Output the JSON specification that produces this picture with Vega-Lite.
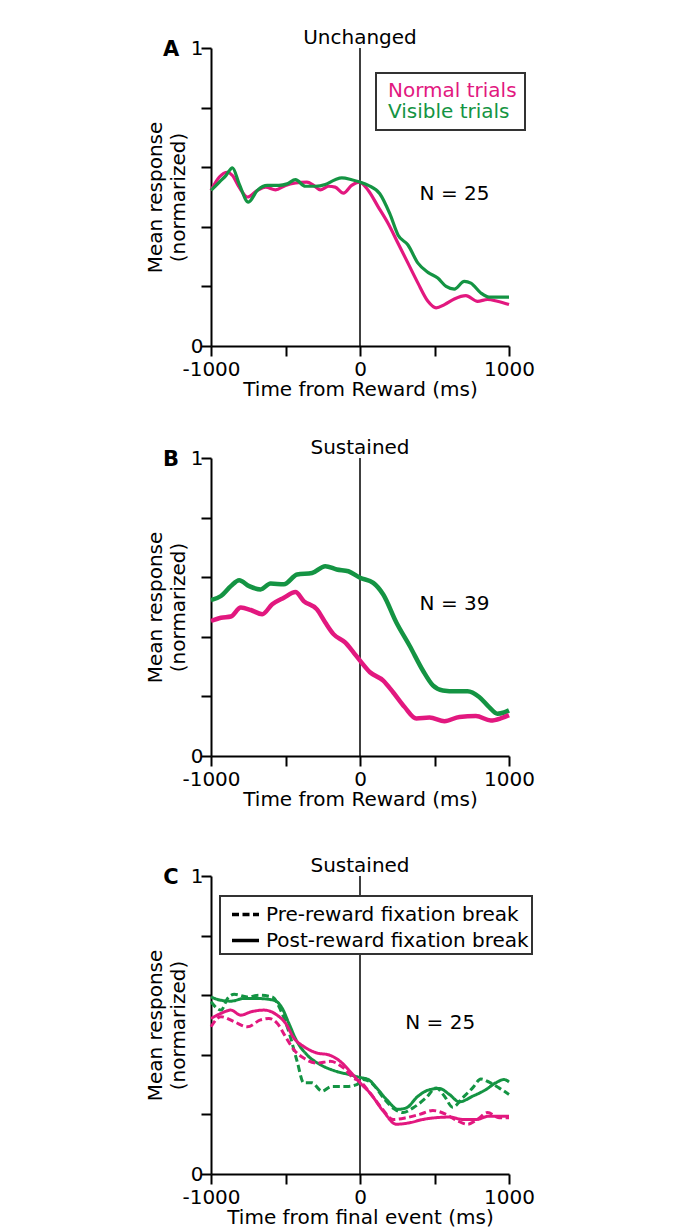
{
  "$schema": "https://vega.github.io/schema/vega-lite/v6.json",
  "padding": {"left": 145, "top": 28, "right": 5, "bottom": 0},
  "background": "white",
  "datasets": {
    "A": [
      {"t": -1000, "trial": "Normal trials", "v": 0.522}, {"t": -944, "trial": "Normal trials", "v": 0.567}, {"t": -889, "trial": "Normal trials", "v": 0.583}, {"t": -856, "trial": "Normal trials", "v": 0.572}, {"t": -811, "trial": "Normal trials", "v": 0.533}, {"t": -756, "trial": "Normal trials", "v": 0.5}, {"t": -689, "trial": "Normal trials", "v": 0.522}, {"t": -633, "trial": "Normal trials", "v": 0.533}, {"t": -567, "trial": "Normal trials", "v": 0.524}, {"t": -500, "trial": "Normal trials", "v": 0.539}, {"t": -433, "trial": "Normal trials", "v": 0.547}, {"t": -356, "trial": "Normal trials", "v": 0.55}, {"t": -311, "trial": "Normal trials", "v": 0.539}, {"t": -267, "trial": "Normal trials", "v": 0.524}, {"t": -211, "trial": "Normal trials", "v": 0.536}, {"t": -167, "trial": "Normal trials", "v": 0.533}, {"t": -111, "trial": "Normal trials", "v": 0.513}, {"t": -56, "trial": "Normal trials", "v": 0.539}, {"t": -4, "trial": "Normal trials", "v": 0.55}, {"t": 56, "trial": "Normal trials", "v": 0.522}, {"t": 122, "trial": "Normal trials", "v": 0.467}, {"t": 189, "trial": "Normal trials", "v": 0.411}, {"t": 256, "trial": "Normal trials", "v": 0.344}, {"t": 322, "trial": "Normal trials", "v": 0.278}, {"t": 389, "trial": "Normal trials", "v": 0.211}, {"t": 456, "trial": "Normal trials", "v": 0.15}, {"t": 511, "trial": "Normal trials", "v": 0.128}, {"t": 567, "trial": "Normal trials", "v": 0.139}, {"t": 633, "trial": "Normal trials", "v": 0.158}, {"t": 711, "trial": "Normal trials", "v": 0.169}, {"t": 789, "trial": "Normal trials", "v": 0.15}, {"t": 856, "trial": "Normal trials", "v": 0.156}, {"t": 922, "trial": "Normal trials", "v": 0.15}, {"t": 1000, "trial": "Normal trials", "v": 0.139},
      {"t": -1000, "trial": "Visible trials", "v": 0.522}, {"t": -944, "trial": "Visible trials", "v": 0.55}, {"t": -900, "trial": "Visible trials", "v": 0.572}, {"t": -856, "trial": "Visible trials", "v": 0.598}, {"t": -811, "trial": "Visible trials", "v": 0.544}, {"t": -749, "trial": "Visible trials", "v": 0.483}, {"t": -689, "trial": "Visible trials", "v": 0.522}, {"t": -622, "trial": "Visible trials", "v": 0.539}, {"t": -544, "trial": "Visible trials", "v": 0.539}, {"t": -489, "trial": "Visible trials", "v": 0.544}, {"t": -433, "trial": "Visible trials", "v": 0.558}, {"t": -367, "trial": "Visible trials", "v": 0.536}, {"t": -300, "trial": "Visible trials", "v": 0.536}, {"t": -233, "trial": "Visible trials", "v": 0.542}, {"t": -167, "trial": "Visible trials", "v": 0.558}, {"t": -122, "trial": "Visible trials", "v": 0.564}, {"t": -56, "trial": "Visible trials", "v": 0.558}, {"t": 0, "trial": "Visible trials", "v": 0.55}, {"t": 56, "trial": "Visible trials", "v": 0.539}, {"t": 133, "trial": "Visible trials", "v": 0.511}, {"t": 200, "trial": "Visible trials", "v": 0.444}, {"t": 256, "trial": "Visible trials", "v": 0.372}, {"t": 322, "trial": "Visible trials", "v": 0.339}, {"t": 389, "trial": "Visible trials", "v": 0.278}, {"t": 456, "trial": "Visible trials", "v": 0.247}, {"t": 522, "trial": "Visible trials", "v": 0.228}, {"t": 578, "trial": "Visible trials", "v": 0.2}, {"t": 633, "trial": "Visible trials", "v": 0.191}, {"t": 700, "trial": "Visible trials", "v": 0.217}, {"t": 744, "trial": "Visible trials", "v": 0.211}, {"t": 811, "trial": "Visible trials", "v": 0.178}, {"t": 867, "trial": "Visible trials", "v": 0.164}, {"t": 933, "trial": "Visible trials", "v": 0.164}, {"t": 1000, "trial": "Visible trials", "v": 0.164}
    ],
    "B": [
      {"t": -1000, "trial": "Visible trials", "v": 0.523}, {"t": -933, "trial": "Visible trials", "v": 0.537}, {"t": -867, "trial": "Visible trials", "v": 0.57}, {"t": -811, "trial": "Visible trials", "v": 0.59}, {"t": -744, "trial": "Visible trials", "v": 0.57}, {"t": -667, "trial": "Visible trials", "v": 0.559}, {"t": -600, "trial": "Visible trials", "v": 0.579}, {"t": -511, "trial": "Visible trials", "v": 0.576}, {"t": -422, "trial": "Visible trials", "v": 0.609}, {"t": -322, "trial": "Visible trials", "v": 0.614}, {"t": -233, "trial": "Visible trials", "v": 0.637}, {"t": -156, "trial": "Visible trials", "v": 0.626}, {"t": -78, "trial": "Visible trials", "v": 0.62}, {"t": 0, "trial": "Visible trials", "v": 0.598}, {"t": 89, "trial": "Visible trials", "v": 0.581}, {"t": 156, "trial": "Visible trials", "v": 0.542}, {"t": 244, "trial": "Visible trials", "v": 0.448}, {"t": 333, "trial": "Visible trials", "v": 0.37}, {"t": 422, "trial": "Visible trials", "v": 0.287}, {"t": 489, "trial": "Visible trials", "v": 0.237}, {"t": 556, "trial": "Visible trials", "v": 0.22}, {"t": 644, "trial": "Visible trials", "v": 0.217}, {"t": 722, "trial": "Visible trials", "v": 0.217}, {"t": 800, "trial": "Visible trials", "v": 0.198}, {"t": 867, "trial": "Visible trials", "v": 0.164}, {"t": 922, "trial": "Visible trials", "v": 0.142}, {"t": 967, "trial": "Visible trials", "v": 0.146}, {"t": 1000, "trial": "Visible trials", "v": 0.153},
      {"t": -1000, "trial": "Normal trials", "v": 0.453}, {"t": -933, "trial": "Normal trials", "v": 0.464}, {"t": -867, "trial": "Normal trials", "v": 0.468}, {"t": -800, "trial": "Normal trials", "v": 0.498}, {"t": -733, "trial": "Normal trials", "v": 0.49}, {"t": -656, "trial": "Normal trials", "v": 0.476}, {"t": -589, "trial": "Normal trials", "v": 0.509}, {"t": -511, "trial": "Normal trials", "v": 0.531}, {"t": -433, "trial": "Normal trials", "v": 0.55}, {"t": -378, "trial": "Normal trials", "v": 0.52}, {"t": -289, "trial": "Normal trials", "v": 0.492}, {"t": -233, "trial": "Normal trials", "v": 0.448}, {"t": -178, "trial": "Normal trials", "v": 0.409}, {"t": -100, "trial": "Normal trials", "v": 0.381}, {"t": -44, "trial": "Normal trials", "v": 0.348}, {"t": 0, "trial": "Normal trials", "v": 0.32}, {"t": 67, "trial": "Normal trials", "v": 0.281}, {"t": 156, "trial": "Normal trials", "v": 0.253}, {"t": 222, "trial": "Normal trials", "v": 0.214}, {"t": 300, "trial": "Normal trials", "v": 0.164}, {"t": 378, "trial": "Normal trials", "v": 0.126}, {"t": 467, "trial": "Normal trials", "v": 0.129}, {"t": 567, "trial": "Normal trials", "v": 0.117}, {"t": 667, "trial": "Normal trials", "v": 0.131}, {"t": 778, "trial": "Normal trials", "v": 0.134}, {"t": 878, "trial": "Normal trials", "v": 0.119}, {"t": 944, "trial": "Normal trials", "v": 0.126}, {"t": 1000, "trial": "Normal trials", "v": 0.137}
    ],
    "C": [
      {"t": -1000, "trial": "Visible trials", "brk": "Post-reward fixation break", "v": 0.594}, {"t": -933, "trial": "Visible trials", "brk": "Post-reward fixation break", "v": 0.583}, {"t": -867, "trial": "Visible trials", "brk": "Post-reward fixation break", "v": 0.58}, {"t": -778, "trial": "Visible trials", "brk": "Post-reward fixation break", "v": 0.589}, {"t": -689, "trial": "Visible trials", "brk": "Post-reward fixation break", "v": 0.589}, {"t": -578, "trial": "Visible trials", "brk": "Post-reward fixation break", "v": 0.583}, {"t": -522, "trial": "Visible trials", "brk": "Post-reward fixation break", "v": 0.556}, {"t": -478, "trial": "Visible trials", "brk": "Post-reward fixation break", "v": 0.506}, {"t": -422, "trial": "Visible trials", "brk": "Post-reward fixation break", "v": 0.444}, {"t": -356, "trial": "Visible trials", "brk": "Post-reward fixation break", "v": 0.4}, {"t": -267, "trial": "Visible trials", "brk": "Post-reward fixation break", "v": 0.367}, {"t": -156, "trial": "Visible trials", "brk": "Post-reward fixation break", "v": 0.344}, {"t": -67, "trial": "Visible trials", "brk": "Post-reward fixation break", "v": 0.333}, {"t": 0, "trial": "Visible trials", "brk": "Post-reward fixation break", "v": 0.324}, {"t": 56, "trial": "Visible trials", "brk": "Post-reward fixation break", "v": 0.317}, {"t": 111, "trial": "Visible trials", "brk": "Post-reward fixation break", "v": 0.289}, {"t": 178, "trial": "Visible trials", "brk": "Post-reward fixation break", "v": 0.25}, {"t": 256, "trial": "Visible trials", "brk": "Post-reward fixation break", "v": 0.217}, {"t": 311, "trial": "Visible trials", "brk": "Post-reward fixation break", "v": 0.222}, {"t": 389, "trial": "Visible trials", "brk": "Post-reward fixation break", "v": 0.261}, {"t": 467, "trial": "Visible trials", "brk": "Post-reward fixation break", "v": 0.283}, {"t": 533, "trial": "Visible trials", "brk": "Post-reward fixation break", "v": 0.287}, {"t": 600, "trial": "Visible trials", "brk": "Post-reward fixation break", "v": 0.267}, {"t": 667, "trial": "Visible trials", "brk": "Post-reward fixation break", "v": 0.242}, {"t": 756, "trial": "Visible trials", "brk": "Post-reward fixation break", "v": 0.261}, {"t": 844, "trial": "Visible trials", "brk": "Post-reward fixation break", "v": 0.283}, {"t": 911, "trial": "Visible trials", "brk": "Post-reward fixation break", "v": 0.306}, {"t": 967, "trial": "Visible trials", "brk": "Post-reward fixation break", "v": 0.317}, {"t": 1000, "trial": "Visible trials", "brk": "Post-reward fixation break", "v": 0.309},
      {"t": -1000, "trial": "Visible trials", "brk": "Pre-reward fixation break", "v": 0.578}, {"t": -933, "trial": "Visible trials", "brk": "Pre-reward fixation break", "v": 0.55}, {"t": -889, "trial": "Visible trials", "brk": "Pre-reward fixation break", "v": 0.589}, {"t": -844, "trial": "Visible trials", "brk": "Pre-reward fixation break", "v": 0.603}, {"t": -756, "trial": "Visible trials", "brk": "Pre-reward fixation break", "v": 0.594}, {"t": -678, "trial": "Visible trials", "brk": "Pre-reward fixation break", "v": 0.6}, {"t": -589, "trial": "Visible trials", "brk": "Pre-reward fixation break", "v": 0.594}, {"t": -533, "trial": "Visible trials", "brk": "Pre-reward fixation break", "v": 0.55}, {"t": -478, "trial": "Visible trials", "brk": "Pre-reward fixation break", "v": 0.478}, {"t": -422, "trial": "Visible trials", "brk": "Pre-reward fixation break", "v": 0.378}, {"t": -378, "trial": "Visible trials", "brk": "Pre-reward fixation break", "v": 0.306}, {"t": -322, "trial": "Visible trials", "brk": "Pre-reward fixation break", "v": 0.306}, {"t": -256, "trial": "Visible trials", "brk": "Pre-reward fixation break", "v": 0.278}, {"t": -189, "trial": "Visible trials", "brk": "Pre-reward fixation break", "v": 0.294}, {"t": -89, "trial": "Visible trials", "brk": "Pre-reward fixation break", "v": 0.294}, {"t": -22, "trial": "Visible trials", "brk": "Pre-reward fixation break", "v": 0.3}, {"t": 22, "trial": "Visible trials", "brk": "Pre-reward fixation break", "v": 0.317}, {"t": 89, "trial": "Visible trials", "brk": "Pre-reward fixation break", "v": 0.3}, {"t": 156, "trial": "Visible trials", "brk": "Pre-reward fixation break", "v": 0.256}, {"t": 233, "trial": "Visible trials", "brk": "Pre-reward fixation break", "v": 0.217}, {"t": 289, "trial": "Visible trials", "brk": "Pre-reward fixation break", "v": 0.206}, {"t": 356, "trial": "Visible trials", "brk": "Pre-reward fixation break", "v": 0.222}, {"t": 444, "trial": "Visible trials", "brk": "Pre-reward fixation break", "v": 0.256}, {"t": 511, "trial": "Visible trials", "brk": "Pre-reward fixation break", "v": 0.289}, {"t": 567, "trial": "Visible trials", "brk": "Pre-reward fixation break", "v": 0.261}, {"t": 622, "trial": "Visible trials", "brk": "Pre-reward fixation break", "v": 0.224}, {"t": 689, "trial": "Visible trials", "brk": "Pre-reward fixation break", "v": 0.256}, {"t": 756, "trial": "Visible trials", "brk": "Pre-reward fixation break", "v": 0.289}, {"t": 811, "trial": "Visible trials", "brk": "Pre-reward fixation break", "v": 0.319}, {"t": 867, "trial": "Visible trials", "brk": "Pre-reward fixation break", "v": 0.308}, {"t": 933, "trial": "Visible trials", "brk": "Pre-reward fixation break", "v": 0.289}, {"t": 1000, "trial": "Visible trials", "brk": "Pre-reward fixation break", "v": 0.267},
      {"t": -1000, "trial": "Normal trials", "brk": "Post-reward fixation break", "v": 0.522}, {"t": -933, "trial": "Normal trials", "brk": "Post-reward fixation break", "v": 0.539}, {"t": -867, "trial": "Normal trials", "brk": "Post-reward fixation break", "v": 0.55}, {"t": -800, "trial": "Normal trials", "brk": "Post-reward fixation break", "v": 0.533}, {"t": -733, "trial": "Normal trials", "brk": "Post-reward fixation break", "v": 0.544}, {"t": -644, "trial": "Normal trials", "brk": "Post-reward fixation break", "v": 0.55}, {"t": -556, "trial": "Normal trials", "brk": "Post-reward fixation break", "v": 0.533}, {"t": -500, "trial": "Normal trials", "brk": "Post-reward fixation break", "v": 0.506}, {"t": -444, "trial": "Normal trials", "brk": "Post-reward fixation break", "v": 0.456}, {"t": -378, "trial": "Normal trials", "brk": "Post-reward fixation break", "v": 0.428}, {"t": -289, "trial": "Normal trials", "brk": "Post-reward fixation break", "v": 0.406}, {"t": -211, "trial": "Normal trials", "brk": "Post-reward fixation break", "v": 0.4}, {"t": -133, "trial": "Normal trials", "brk": "Post-reward fixation break", "v": 0.378}, {"t": -67, "trial": "Normal trials", "brk": "Post-reward fixation break", "v": 0.344}, {"t": 0, "trial": "Normal trials", "brk": "Post-reward fixation break", "v": 0.306}, {"t": 67, "trial": "Normal trials", "brk": "Post-reward fixation break", "v": 0.272}, {"t": 156, "trial": "Normal trials", "brk": "Post-reward fixation break", "v": 0.211}, {"t": 244, "trial": "Normal trials", "brk": "Post-reward fixation break", "v": 0.167}, {"t": 333, "trial": "Normal trials", "brk": "Post-reward fixation break", "v": 0.172}, {"t": 422, "trial": "Normal trials", "brk": "Post-reward fixation break", "v": 0.183}, {"t": 511, "trial": "Normal trials", "brk": "Post-reward fixation break", "v": 0.189}, {"t": 600, "trial": "Normal trials", "brk": "Post-reward fixation break", "v": 0.191}, {"t": 689, "trial": "Normal trials", "brk": "Post-reward fixation break", "v": 0.183}, {"t": 778, "trial": "Normal trials", "brk": "Post-reward fixation break", "v": 0.183}, {"t": 867, "trial": "Normal trials", "brk": "Post-reward fixation break", "v": 0.194}, {"t": 944, "trial": "Normal trials", "brk": "Post-reward fixation break", "v": 0.194}, {"t": 1000, "trial": "Normal trials", "brk": "Post-reward fixation break", "v": 0.194},
      {"t": -1000, "trial": "Normal trials", "brk": "Pre-reward fixation break", "v": 0.494}, {"t": -933, "trial": "Normal trials", "brk": "Pre-reward fixation break", "v": 0.528}, {"t": -844, "trial": "Normal trials", "brk": "Pre-reward fixation break", "v": 0.511}, {"t": -756, "trial": "Normal trials", "brk": "Pre-reward fixation break", "v": 0.494}, {"t": -667, "trial": "Normal trials", "brk": "Pre-reward fixation break", "v": 0.517}, {"t": -611, "trial": "Normal trials", "brk": "Pre-reward fixation break", "v": 0.522}, {"t": -556, "trial": "Normal trials", "brk": "Pre-reward fixation break", "v": 0.506}, {"t": -500, "trial": "Normal trials", "brk": "Pre-reward fixation break", "v": 0.461}, {"t": -444, "trial": "Normal trials", "brk": "Pre-reward fixation break", "v": 0.417}, {"t": -378, "trial": "Normal trials", "brk": "Pre-reward fixation break", "v": 0.389}, {"t": -289, "trial": "Normal trials", "brk": "Pre-reward fixation break", "v": 0.372}, {"t": -200, "trial": "Normal trials", "brk": "Pre-reward fixation break", "v": 0.378}, {"t": -111, "trial": "Normal trials", "brk": "Pre-reward fixation break", "v": 0.356}, {"t": -44, "trial": "Normal trials", "brk": "Pre-reward fixation break", "v": 0.322}, {"t": 0, "trial": "Normal trials", "brk": "Pre-reward fixation break", "v": 0.311}, {"t": 67, "trial": "Normal trials", "brk": "Pre-reward fixation break", "v": 0.272}, {"t": 144, "trial": "Normal trials", "brk": "Pre-reward fixation break", "v": 0.222}, {"t": 222, "trial": "Normal trials", "brk": "Pre-reward fixation break", "v": 0.183}, {"t": 311, "trial": "Normal trials", "brk": "Pre-reward fixation break", "v": 0.189}, {"t": 400, "trial": "Normal trials", "brk": "Pre-reward fixation break", "v": 0.2}, {"t": 489, "trial": "Normal trials", "brk": "Pre-reward fixation break", "v": 0.213}, {"t": 578, "trial": "Normal trials", "brk": "Pre-reward fixation break", "v": 0.2}, {"t": 656, "trial": "Normal trials", "brk": "Pre-reward fixation break", "v": 0.178}, {"t": 722, "trial": "Normal trials", "brk": "Pre-reward fixation break", "v": 0.167}, {"t": 789, "trial": "Normal trials", "brk": "Pre-reward fixation break", "v": 0.183}, {"t": 856, "trial": "Normal trials", "brk": "Pre-reward fixation break", "v": 0.206}, {"t": 933, "trial": "Normal trials", "brk": "Pre-reward fixation break", "v": 0.189}, {"t": 1000, "trial": "Normal trials", "brk": "Pre-reward fixation break", "v": 0.189}
    ]
  },
  "resolve": {"scale": {"color": "independent", "strokeDash": "independent"}, "legend": {"color": "independent", "strokeDash": "independent"}},
  "spacing": 47,
  "vconcat": [
    {
      "resolve": {"scale": {"color": "independent"}, "legend": {"color": "independent"}},
      "spacing": 39,
      "vconcat": [
        {
          "width": 298, "height": 298,
          "title": {"text": "Unchanged"},
          "layer": [
            {"data": {"values": [{}]}, "mark": {"type": "rule", "color": "black", "strokeWidth": 1.5}, "encoding": {"x": {"datum": 0, "type": "quantitative"}, "y": {"datum": 0, "type": "quantitative"}, "y2": {"datum": 1}}},
            {
              "data": {"name": "A"},
              "mark": {"type": "line", "strokeWidth": 3.2, "interpolate": "monotone"},
              "encoding": {
                "x": {"field": "t", "type": "quantitative", "scale": {"domain": [-1000, 1000], "nice": false}, "axis": {"title": "Time from Reward (ms)", "values": [-1000, -500, 0, 500, 1000], "labelExpr": "datum.value == -1000 ? '-1000' : (datum.value == 0 ? '0' : (datum.value == 1000 ? '1000' : ''))"}},
                "y": {"field": "v", "type": "quantitative", "scale": {"domain": [0, 1], "nice": false, "zero": false}, "axis": {"title": ["Mean response", "(normarized)"], "values": [0, 0.2, 0.4, 0.6, 0.8, 1], "labelExpr": "datum.value == 0 ? '0' : (datum.value == 1 ? '1' : '')"}},
                "color": {"field": "trial", "type": "nominal", "scale": {"domain": ["Normal trials", "Visible trials"], "range": ["#e2187f", "#149443"]},
                  "legend": {"orient": "none", "legendX": 165, "legendY": 25, "title": null, "symbolSize": 0, "symbolOpacity": 0, "symbolStrokeWidth": 0, "labelFontSize": 20, "labelOffset": -16, "padding": 8, "rowPadding": 1, "strokeColor": "#333333", "fillColor": "white",
                    "encode": {"labels": {"update": {"fill": {"signal": "datum.value === 'Normal trials' ? '#e2187f' : '#149443'"}}}, "legend": {"update": {"strokeWidth": {"value": 2}}}}}}
              }
            },
            {"data": {"values": [{}]}, "mark": {"type": "text", "align": "left", "baseline": "middle", "fontSize": 20, "color": "black"}, "encoding": {"x": {"datum": 400, "type": "quantitative"}, "y": {"datum": 0.51, "type": "quantitative"}, "text": {"value": "N = 25"}}},
            {"data": {"values": [{}]}, "mark": {"type": "text", "align": "center", "baseline": "middle", "fontSize": 21, "fontWeight": "bold", "color": "black", "dx": -40, "dy": 2}, "encoding": {"x": {"datum": -1000, "type": "quantitative"}, "y": {"datum": 1, "type": "quantitative"}, "text": {"value": "A"}}}
          ]
        },
        {
          "width": 298, "height": 298,
          "title": {"text": "Sustained"},
          "layer": [
            {"data": {"values": [{}]}, "mark": {"type": "rule", "color": "black", "strokeWidth": 1.5}, "encoding": {"x": {"datum": 0, "type": "quantitative"}, "y": {"datum": 0, "type": "quantitative"}, "y2": {"datum": 1}}},
            {
              "data": {"name": "B"},
              "mark": {"type": "line", "strokeWidth": 4.5, "interpolate": "monotone"},
              "encoding": {
                "x": {"field": "t", "type": "quantitative", "scale": {"domain": [-1000, 1000], "nice": false}, "axis": {"title": "Time from Reward (ms)", "values": [-1000, -500, 0, 500, 1000], "labelExpr": "datum.value == -1000 ? '-1000' : (datum.value == 0 ? '0' : (datum.value == 1000 ? '1000' : ''))"}},
                "y": {"field": "v", "type": "quantitative", "scale": {"domain": [0, 1], "nice": false, "zero": false}, "axis": {"title": ["Mean response", "(normarized)"], "values": [0, 0.2, 0.4, 0.6, 0.8, 1], "labelExpr": "datum.value == 0 ? '0' : (datum.value == 1 ? '1' : '')"}},
                "color": {"field": "trial", "type": "nominal", "scale": {"domain": ["Normal trials", "Visible trials"], "range": ["#e2187f", "#149443"]}, "legend": null}
              }
            },
            {"data": {"values": [{}]}, "mark": {"type": "text", "align": "left", "baseline": "middle", "fontSize": 20, "color": "black"}, "encoding": {"x": {"datum": 400, "type": "quantitative"}, "y": {"datum": 0.51, "type": "quantitative"}, "text": {"value": "N = 39"}}},
            {"data": {"values": [{}]}, "mark": {"type": "text", "align": "center", "baseline": "middle", "fontSize": 21, "fontWeight": "bold", "color": "black", "dx": -40, "dy": 2}, "encoding": {"x": {"datum": -1000, "type": "quantitative"}, "y": {"datum": 1, "type": "quantitative"}, "text": {"value": "B"}}}
          ]
        }
      ]
    },
    {
      "width": 298, "height": 298,
      "title": {"text": "Sustained"},
      "layer": [
        {"data": {"values": [{}]}, "mark": {"type": "rule", "color": "black", "strokeWidth": 1.5}, "encoding": {"x": {"datum": 0, "type": "quantitative"}, "y": {"datum": 0, "type": "quantitative"}, "y2": {"datum": 1}}},
        {
          "data": {"name": "C"},
          "mark": {"type": "line", "strokeWidth": 3, "interpolate": "monotone"},
          "encoding": {
            "x": {"field": "t", "type": "quantitative", "scale": {"domain": [-1000, 1000], "nice": false}, "axis": {"title": "Time from final event (ms)", "values": [-1000, -500, 0, 500, 1000], "labelExpr": "datum.value == -1000 ? '-1000' : (datum.value == 0 ? '0' : (datum.value == 1000 ? '1000' : ''))"}},
            "y": {"field": "v", "type": "quantitative", "scale": {"domain": [0, 1], "nice": false, "zero": false}, "axis": {"title": ["Mean response", "(normarized)"], "values": [0, 0.2, 0.4, 0.6, 0.8, 1], "labelExpr": "datum.value == 0 ? '0' : (datum.value == 1 ? '1' : '')"}},
            "color": {"field": "trial", "type": "nominal", "scale": {"domain": ["Normal trials", "Visible trials"], "range": ["#e2187f", "#149443"]}, "legend": null},
            "strokeDash": {"field": "brk", "type": "nominal", "scale": {"domain": ["Pre-reward fixation break", "Post-reward fixation break"], "range": [[7, 3.5], [1, 0]]},
              "legend": {"orient": "none", "legendX": 9, "legendY": 20, "title": null, "symbolType": "stroke", "symbolStrokeColor": "black", "symbolStrokeWidth": 3.5, "symbolSize": 729, "symbolOffset": 7, "labelFontSize": 20, "labelColor": "black", "labelOffset": 5, "labelLimit": 400, "padding": 3, "rowPadding": 0, "strokeColor": "#333333", "fillColor": "white",
                "encode": {"legend": {"update": {"strokeWidth": {"value": 2}}}}}}
          }
        },
        {"data": {"values": [{}]}, "mark": {"type": "text", "align": "left", "baseline": "middle", "fontSize": 20, "color": "black"}, "encoding": {"x": {"datum": 304, "type": "quantitative"}, "y": {"datum": 0.507, "type": "quantitative"}, "text": {"value": "N = 25"}}},
        {"data": {"values": [{}]}, "mark": {"type": "text", "align": "center", "baseline": "middle", "fontSize": 21, "fontWeight": "bold", "color": "black", "dx": -40, "dy": 2}, "encoding": {"x": {"datum": -1000, "type": "quantitative"}, "y": {"datum": 1, "type": "quantitative"}, "text": {"value": "C"}}}
      ]
    }
  ],
  "config": {
    "font": "DejaVu Sans",
    "view": {"stroke": null},
    "axis": {"domainColor": "black", "domainWidth": 2, "tickColor": "black", "tickWidth": 2, "tickSize": 10, "labelFontSize": 20, "labelColor": "black", "labelFont": "DejaVu Sans", "labelFlush": false, "labelOverlap": false, "titleFontSize": 20, "titleFontWeight": "normal", "titleColor": "black", "titleFont": "DejaVu Sans", "titleLineHeight": 23, "grid": false},
    "axisX": {"labelPadding": 3, "titlePadding": 0},
    "axisY": {"labelPadding": -2, "titlePadding": 2},
    "title": {"fontSize": 20, "fontWeight": "normal", "color": "black", "font": "DejaVu Sans", "offset": -10, "frame": "group"},
    "legend": {"labelFont": "DejaVu Sans"}
  }
}
